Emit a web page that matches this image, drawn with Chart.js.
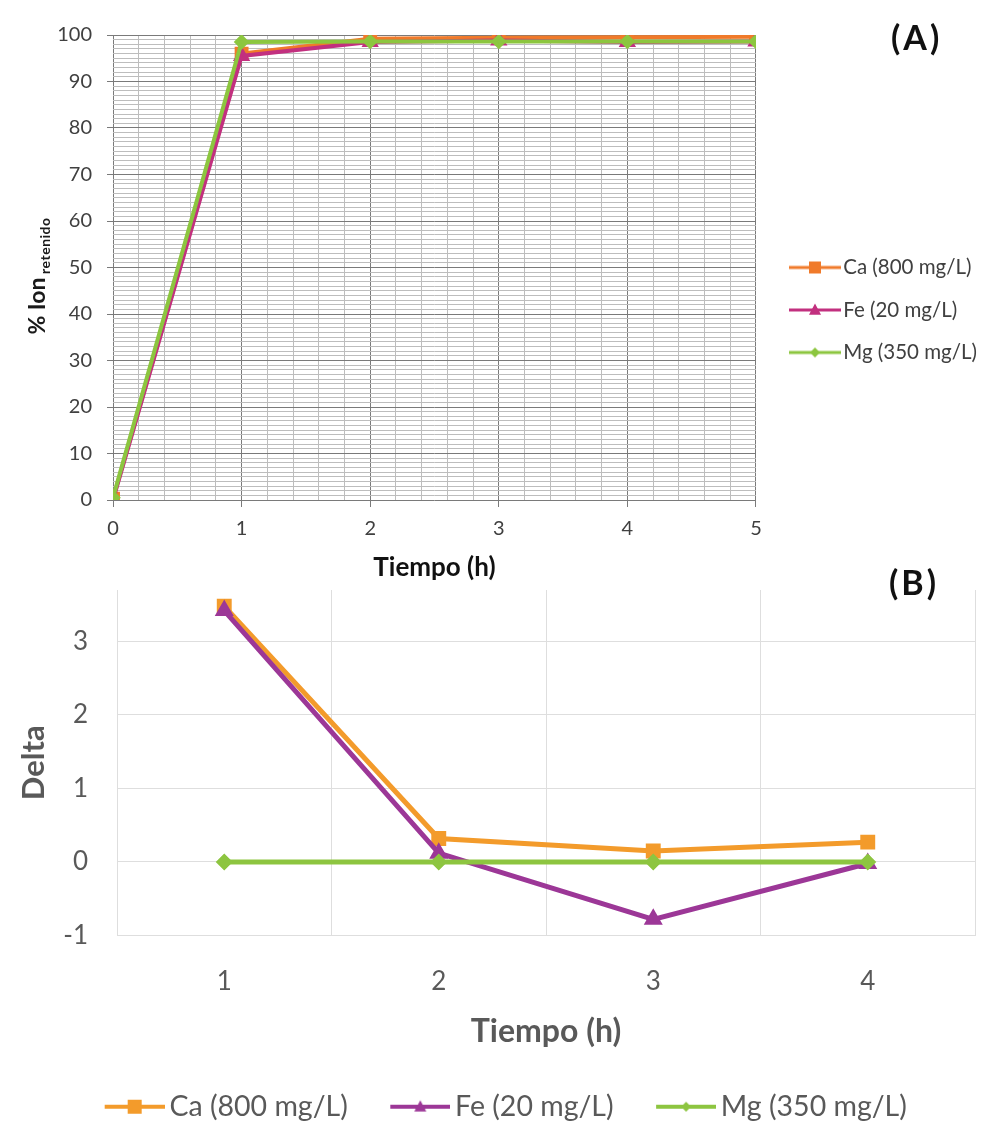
<!DOCTYPE html>
<html>
<head>
<meta charset="utf-8">
<script src="https://cdn.jsdelivr.net/npm/chart.js@4.4.1/dist/chart.umd.min.js"></script>
<style>
  html, body { margin: 0; padding: 0; background: #fff; }
  #page { position: relative; width: 987px; height: 1131px; }
  .panel { position: absolute; left: 0; width: 987px; }
  #panelA { top: 0; height: 585px; }
  #panelB { top: 575px; height: 556px; }
  .tag { position: absolute; font: bold 34px Lato, sans-serif; line-height: 34px; letter-spacing: 3px; color: #111; }
</style>
</head>
<body>
<div id="page">
  <div class="panel" id="panelA"><canvas id="retention"></canvas></div>
  <div class="panel" id="panelB"><canvas id="delta"></canvas></div>
  <div class="tag" style="left:891px; top:20px;">(A)</div>
  <div class="tag" style="left:889px; top:565px;">(B)</div>
</div>
<script>
'use strict';

// Series names
var seriesNames = ['Ca (800 mg/L)', 'Fe (20 mg/L)', 'Mg (350 mg/L)'];

// (A) % ion retained vs time
var hoursA = [0, 1, 2, 3, 4, 5];
var caRetained = [0.3, 96, 99.2, 99.4, 99.5, 99.6];
var feRetained = [0, 95.5, 98.5, 98.8, 98.5, 98.6];
var mgRetained = [0.5, 98.5, 98.6, 98.6, 98.6, 98.6];

// (B) delta vs time
var hoursB = ['1', '2', '3', '4'];
var caDelta = [3.48, 0.32, 0.15, 0.27];
var feDelta = [3.42, 0.12, -0.78, -0.02];
var mgDelta = [0, 0, 0, 0];

var FONT = 'Lato, sans-serif';

// line + marker swatch used as legend point style;
// the swatch sits at the right end of a w-wide canvas
function legendIcon(color, shape, w, iconW, h, r, lw) {
  var c = document.createElement('canvas');
  c.width = w; c.height = h;
  var g = c.getContext('2d');
  var x0 = w - iconW;
  g.strokeStyle = color;
  g.fillStyle = color;
  g.lineWidth = lw;
  g.beginPath();
  g.moveTo(x0, h / 2);
  g.lineTo(w, h / 2);
  g.stroke();
  var cx = x0 + iconW / 2, cy = h / 2;
  g.beginPath();
  if (shape === 'rect') {
    g.rect(cx - r, cy - r, 2 * r, 2 * r);
  } else if (shape === 'triangle') {
    g.moveTo(cx, cy - r * 1.1);
    g.lineTo(cx + r, cy + r * 0.8);
    g.lineTo(cx - r, cy + r * 0.8);
    g.closePath();
  } else {
    g.moveTo(cx, cy - r);
    g.lineTo(cx + r, cy);
    g.lineTo(cx, cy + r);
    g.lineTo(cx - r, cy);
    g.closePath();
  }
  g.fill();
  return c;
}

function iconLabels(icons, color) {
  return function (chart) {
    return chart.data.datasets.map(function (ds, i) {
      return {
        text: ds.label,
        pointStyle: icons[i],
        fillStyle: ds.borderColor,
        strokeStyle: ds.borderColor,
        lineWidth: 0,
        fontColor: color,
        hidden: false,
        datasetIndex: i
      };
    });
  };
}

function near(v, step) {
  return Math.abs(v / step - Math.round(v / step)) < 1e-6;
}

function pts(xs, ys) {
  return xs.map(function (x, i) { return { x: x, y: ys[i] }; });
}

// y axis title with subscript
var ionTitle = {
  id: 'ionTitle',
  afterDraw: function (chart) {
    var ctx = chart.ctx;
    ctx.save();
    ctx.translate(45, 275);
    ctx.rotate(-Math.PI / 2);
    ctx.fillStyle = '#1a1a1a';
    ctx.font = 'bold 23px ' + FONT;
    var mainW = ctx.measureText('% Ion ').width;
    ctx.font = 'bold 14px ' + FONT;
    ctx.letterSpacing = '0.5px';
    var subW = ctx.measureText('retenido').width;
    var x0 = -(mainW + subW) / 2;
    ctx.fillText('retenido', x0 + mainW - 2, 5);
    ctx.letterSpacing = '0px';
    ctx.font = 'bold 23px ' + FONT;
    ctx.fillText('% Ion ', x0, 0);
    ctx.restore();
  }
};

createRetentionChart();
createDeltaChart();

// Line chart: % ion retained
function createRetentionChart() {
  var colors = ['#F07A2A', '#C2307F', '#8CC63F'];
  var icons = [
    legendIcon(colors[0], 'rect', 71, 52, 16, 6, 3),
    legendIcon(colors[1], 'triangle', 71, 52, 16, 6, 3),
    legendIcon(colors[2], 'diamond', 71, 52, 16, 5, 3)
  ];
  var ctx = document.getElementById('retention');
  new Chart(ctx, {
    type: 'line',
    data: {
      datasets: [
        {
          label: seriesNames[0],
          data: pts(hoursA, caRetained),
          borderColor: colors[0],
          backgroundColor: colors[0],
          borderWidth: 4,
          pointStyle: 'rect',
          pointRadius: 7,
          order: 3
        },
        {
          label: seriesNames[1],
          data: pts(hoursA, feRetained),
          borderColor: colors[1],
          backgroundColor: colors[1],
          borderWidth: 4,
          pointStyle: 'triangle',
          pointRadius: 6,
          order: 2
        },
        {
          label: seriesNames[2],
          data: pts(hoursA, mgRetained),
          borderColor: colors[2],
          backgroundColor: colors[2],
          borderWidth: 4,
          pointStyle: 'rectRot',
          pointRadius: 5,
          order: 1
        }
      ]
    },
    options: {
      responsive: true,
      maintainAspectRatio: false,
      animation: false,
      layout: { padding: { top: 35, right: 0, left: 0, bottom: 0 } },
      plugins: {
        tooltip: { enabled: false },
        legend: {
          position: 'right',
          labels: {
            usePointStyle: true,
            pointStyleWidth: 55,
            padding: 22,
            color: '#404040',
            font: { family: FONT, size: 20.5 },
            generateLabels: iconLabels(icons, '#404040')
          }
        }
      },
      scales: {
        x: {
          type: 'linear',
          min: 0,
          max: 5,
          afterFit: function (scale) { scale.height = 85; },
          border: { display: false },
          grid: {
            tickLength: 7,
            color: function (c) { return c.tick && near(c.tick.value, 1) ? '#7a7a7a' : '#bdbdbd'; },
            tickColor: function (c) { return c.tick && near(c.tick.value, 1) ? '#7a7a7a' : 'rgba(0,0,0,0)'; }
          },
          ticks: {
            stepSize: 0.2,
            autoSkip: false,
            maxRotation: 0,
            padding: 10,
            color: '#404040',
            font: { family: FONT, size: 20 },
            callback: function (v) { return near(v, 1) ? Math.round(v) : ''; }
          },
          title: {
            display: true,
            text: 'Tiempo (h)',
            color: '#111',
            font: { family: FONT, size: 26, weight: 'bold' },
            padding: { top: 0, bottom: 2 }
          }
        },
        y: {
          min: 0,
          max: 100,
          afterFit: function (scale) { scale.width = 113; },
          border: { display: false },
          grid: {
            tickLength: 6,
            color: function (c) { return c.tick && near(c.tick.value, 10) ? '#7a7a7a' : '#bdbdbd'; },
            tickColor: function (c) { return c.tick && near(c.tick.value, 10) ? '#7a7a7a' : 'rgba(0,0,0,0)'; }
          },
          ticks: {
            stepSize: 1,
            autoSkip: false,
            padding: 15,
            color: '#404040',
            font: { family: FONT, size: 20 },
            callback: function (v) { return near(v, 10) ? v : ''; }
          }
        }
      }
    },
    plugins: [ionTitle]
  });
}

// Line chart: delta per hour
function createDeltaChart() {
  var colors = ['#F39B2B', '#9C3797', '#8DC540'];
  var icons = [
    legendIcon(colors[0], 'rect', 104, 60, 16, 7, 4),
    legendIcon(colors[1], 'triangle', 104, 60, 16, 6, 4),
    legendIcon(colors[2], 'diamond', 104, 60, 16, 5, 4)
  ];
  var ctx = document.getElementById('delta');
  new Chart(ctx, {
    type: 'line',
    data: {
      labels: hoursB,
      datasets: [
        {
          label: seriesNames[0],
          data: caDelta,
          borderColor: colors[0],
          backgroundColor: colors[0],
          borderWidth: 5,
          pointStyle: 'rect',
          pointRadius: 7,
          order: 3
        },
        {
          label: seriesNames[1],
          data: feDelta,
          borderColor: colors[1],
          backgroundColor: colors[1],
          borderWidth: 5,
          pointStyle: 'triangle',
          pointRadius: 6,
          order: 2
        },
        {
          label: seriesNames[2],
          data: mgDelta,
          borderColor: colors[2],
          backgroundColor: colors[2],
          borderWidth: 5,
          pointStyle: 'rectRot',
          pointRadius: 5,
          order: 1
        }
      ]
    },
    options: {
      responsive: true,
      maintainAspectRatio: false,
      animation: false,
      layout: { padding: { top: 15, right: 10, left: 0, bottom: 0 } },
      plugins: {
        tooltip: { enabled: false },
        legend: {
          position: 'bottom',
          labels: {
            usePointStyle: true,
            pointStyleWidth: 85,
            padding: 8,
            color: '#595959',
            font: { family: FONT, size: 28.5 },
            generateLabels: iconLabels(icons, '#595959')
          }
        }
      },
      scales: {
        x: {
          offset: true,
          afterFit: function (scale) { scale.height = 149; },
          border: { display: false },
          grid: {
            offset: true,
            drawTicks: false,
            color: '#dedede'
          },
          ticks: {
            padding: 31,
            color: '#595959',
            font: { family: FONT, size: 26 }
          },
          title: {
            display: true,
            text: 'Tiempo (h)',
            color: '#595959',
            font: { family: FONT, size: 32, weight: 'bold' },
            padding: { top: 0, bottom: 34 }
          }
        },
        y: {
          min: -1,
          max: 3.7,
          afterFit: function (scale) {
            scale.width = 117;
            scale.paddingTop = 0;
            scale.paddingBottom = 0;
          },
          border: { display: false },
          grid: {
            drawTicks: false,
            color: '#dedede'
          },
          ticks: {
            stepSize: 1,
            includeBounds: false,
            padding: 29,
            color: '#595959',
            font: { family: FONT, size: 26 }
          },
          title: {
            display: true,
            text: 'Delta',
            color: '#595959',
            font: { family: FONT, size: 31, weight: 'bold' },
            padding: { top: 15, bottom: 0 }
          }
        }
      }
    }
  });
}
</script>
</body>
</html>
